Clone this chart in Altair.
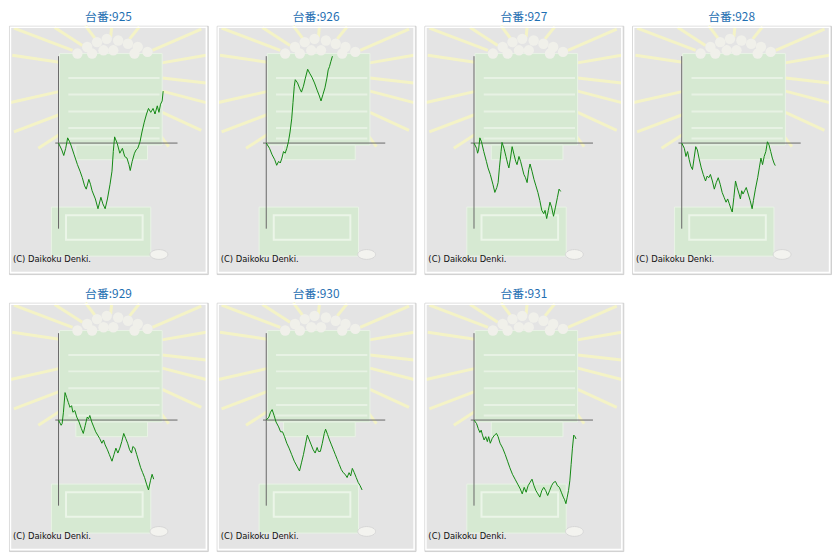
import altair as alt
import pandas as pd

# ---------------- data: game count (x) vs. coin difference (y) ----------------
MACHINES = ["925", "926", "927", "928", "929", "930", "931"]

GAMES = {
    "925": [0, 100, 160, 220, 280, 340, 380, 480, 580, 660, 730, 800, 850, 930, 980, 1030, 1130, 1210, 1300, 1360, 1430, 1500, 1580, 1640, 1680, 1720, 1800, 1880, 1960, 2030, 2100, 2160, 2200, 2260, 2330, 2380, 2430, 2500, 2560, 2630, 2700, 2760, 2830, 2900, 2960, 3030, 3080, 3130, 3180, 3210],
    "926": [0, 100, 180, 260, 320, 380, 430, 480, 530, 580, 630, 680, 730, 780, 820, 860, 890, 960, 1030, 1080, 1140, 1200, 1270, 1330, 1400, 1480, 1560, 1630, 1680, 1740, 1800, 1860, 1900, 1940, 1980, 2030],
    "927": [0, 80, 110, 140, 180, 230, 300, 380, 430, 500, 580, 640, 700, 740, 780, 830, 860, 920, 980, 1040, 1070, 1120, 1170, 1230, 1280, 1320, 1380, 1430, 1480, 1530, 1580, 1630, 1680, 1720, 1780, 1840, 1900, 1960, 2020, 2080, 2140, 2180, 2230, 2280, 2330, 2380, 2440, 2500, 2560, 2610, 2660],
    "928": [0, 80, 130, 180, 230, 280, 330, 380, 430, 480, 530, 600, 660, 730, 780, 830, 880, 940, 1000, 1060, 1120, 1180, 1240, 1300, 1360, 1410, 1460, 1510, 1550, 1600, 1650, 1700, 1760, 1800, 1840, 1880, 1930, 1980, 2040, 2100, 2160, 2200, 2260, 2330, 2380, 2430, 2480, 2530, 2580, 2630, 2680, 2730, 2780, 2830, 2870],
    "929": [0, 80, 110, 150, 200, 250, 300, 350, 400, 440, 500, 560, 630, 700, 760, 820, 880, 920, 960, 1020, 1080, 1140, 1200, 1260, 1330, 1380, 1430, 1500, 1560, 1600, 1640, 1700, 1760, 1820, 1880, 1940, 2000, 2060, 2120, 2180, 2240, 2280, 2340, 2400, 2460, 2520, 2580, 2640, 2700, 2760, 2820, 2870, 2920],
    "930": [0, 80, 130, 180, 240, 300, 380, 440, 500, 560, 630, 700, 780, 860, 940, 1020, 1080, 1140, 1200, 1260, 1320, 1380, 1440, 1500, 1560, 1600, 1660, 1720, 1780, 1820, 1880, 1940, 2000, 2060, 2120, 2180, 2240, 2300, 2360, 2420, 2480, 2540, 2590, 2640, 2700, 2760, 2820, 2880, 2940],
    "931": [0, 80, 130, 180, 220, 260, 310, 360, 410, 450, 500, 560, 630, 690, 740, 800, 880, 960, 1030, 1100, 1180, 1260, 1340, 1420, 1480, 1540, 1600, 1660, 1720, 1780, 1840, 1900, 1960, 2020, 2080, 2140, 2200, 2260, 2320, 2380, 2440, 2500, 2560, 2620, 2680, 2740, 2780, 2820, 2860, 2900, 2940, 2980, 3020, 3060, 3100, 3130],
}

COINS = {
    "925": [0, -210, -380, -160, 160, 40, -60, -360, -660, -860, -1060, -1310, -1410, -1110, -1260, -1460, -1710, -2010, -1660, -1860, -2010, -1710, -1260, -860, -260, 190, -10, -310, -160, -410, -460, -660, -840, -560, -310, -210, -160, 40, 340, 640, 890, 1060, 940, 1060, 890, 1140, 940, 1190, 1290, 1590],
    "926": [0, -160, -360, -510, -680, -560, -610, -460, -260, -310, -160, 40, 340, 740, 1240, 1740, 1940, 1840, 1660, 1560, 1740, 1990, 2260, 2140, 2020, 1840, 1620, 1440, 1290, 1490, 1690, 1990, 2240, 2340, 2490, 2660],
    "927": [0, -160, -310, -210, 160, 40, -260, -560, -760, -960, -1260, -1510, -1360, -1210, -760, -260, 20, -160, -410, -660, -760, -460, -110, -360, -560, -660, -410, -560, -760, -960, -1060, -1210, -810, -640, -860, -1110, -1310, -1510, -1760, -2060, -2160, -2060, -2310, -2060, -1810, -1960, -2240, -1960, -1660, -1410, -1480],
    "928": [0, -160, -410, -260, -510, -710, -810, -460, -110, -210, -460, -760, -960, -1160, -1010, -1060, -960, -1160, -1410, -1210, -1060, -1260, -1510, -1660, -1810, -1710, -1860, -2010, -2110, -1660, -1160, -1360, -1560, -1710, -1460, -1560, -1460, -1360, -1560, -1760, -2010, -1760, -1410, -1060, -760, -460, -660, -410, -260, 40, -60, -260, -460, -610, -690],
    "929": [0, -160, -110, 240, 840, 690, 540, 390, 440, 240, 290, 90, -60, -260, -410, -160, 90, 40, 140, -60, -210, -360, -460, -560, -710, -610, -760, -910, -1060, -1160, -1260, -1060, -860, -1010, -860, -660, -410, -560, -710, -910, -1010, -810, -860, -1060, -1260, -1460, -1610, -1760, -1960, -2140, -1860, -1660, -1810],
    "930": [0, 90, 240, 320, 140, -60, -210, -360, -360, -510, -710, -860, -1060, -1260, -1410, -1560, -1310, -1060, -760, -460, -610, -760, -910, -1010, -840, -960, -960, -710, -410, -280, -440, -610, -760, -910, -1060, -1210, -1360, -1510, -1610, -1660, -1760, -1610, -1710, -1480, -1610, -1760, -1910, -2010, -2140],
    "931": [0, -110, -260, -380, -310, -460, -610, -510, -660, -510, -710, -560, -460, -410, -510, -710, -860, -1060, -1260, -1460, -1660, -1810, -1960, -2110, -2260, -2060, -2210, -2010, -1910, -1810, -2010, -2160, -2260, -2360, -2160, -2060, -2160, -2310, -2160, -2010, -1910, -1880, -2010, -2060, -2210, -2360, -2440, -2560, -2360, -2160, -1860, -1360, -860, -460, -510, -580],
}

# panel extent and axis extent (same units as data)
X_DOMAIN = [-1520, 4580]
Y_DOMAIN = [-4010, 3590]
AXIS_X = [-100, 3650]
AXIS_Y = [-2620, 2660]

# ---------------- decorative background (approximation of the picture) ----------------
RAY_X1 = [-1370, -120, -1420, -1470, -1370, -620, 830, 1630, 2480, 4380, 4530, 4530, 4530, 4380, 3380]
RAY_Y1 = [3520, 3540, 2690, 1240, 340, -160, 3590, 3560, 3560, 3490, 2690, 1840, 1240, 390, -110]
RAY_X2 = [430, 730, 130, 80, 80, 80, 1130, 1600, 2180, 2880, 3080, 3180, 3180, 3180, 3080]
RAY_Y2 = [2840, 2990, 2460, 1590, 890, 290, 3190, 3240, 3190, 2840, 2440, 1990, 1590, 940, 290]

BALL_X = [580, 880, 1180, 1480, 1830, 2130, 2430, 2730, 1030, 1680, 2330, 1380]
BALL_Y = [2740, 2940, 3090, 3190, 3140, 3040, 2940, 2790, 2740, 2840, 2740, 2840]

BLOCK_X1 = [30, 530, -220]
BLOCK_X2 = [3180, 2730, 2830]
BLOCK_Y1 = [-60, -510, -3460]
BLOCK_Y2 = [2740, -60, -1960]

BAND_Y = [1990, 1490, 970, 460, 140]
BAND_X1 = [300, 300, 300, 300, 300]
BAND_X2 = [3100, 3100, 3100, 3100, 3100]

INNER_TRAY = {"x": [230], "x2": [2580], "y": [-2960], "y2": [-2210]}
COIN = {"x": [3080], "y": [-3410]}
COPYRIGHT = {"x": [-1400], "y": [-3540], "t": ["(C) Daikoku Denki."]}
FRAME = {"x": [X_DOMAIN[0] + 45], "x2": [X_DOMAIN[1] - 45], "y": [Y_DOMAIN[0] + 45], "y2": [Y_DOMAIN[1] - 45]}

W, H = 201, 251

XS = alt.Scale(domain=X_DOMAIN, nice=False, zero=False)
YS = alt.Scale(domain=Y_DOMAIN, nice=False, zero=False)


def X(f="x"):
    return alt.X(f + ":Q", scale=XS, axis=None)


def Y(f="y"):
    return alt.Y(f + ":Q", scale=YS, axis=None)


rays = alt.Chart(pd.DataFrame({"x": RAY_X1, "y": RAY_Y1, "x2": RAY_X2, "y2": RAY_Y2})).mark_rule(
    color="#f4f3c6", strokeWidth=3
).encode(x=X(), y=Y(), x2="x2:Q", y2="y2:Q")

blocks = alt.Chart(pd.DataFrame({"x": BLOCK_X1, "x2": BLOCK_X2, "y": BLOCK_Y1, "y2": BLOCK_Y2})).mark_rect(
    color="#d6e9d2", stroke="#e9f3e6", strokeWidth=1
).encode(x=X(), x2="x2:Q", y=Y(), y2="y2:Q")

bands = alt.Chart(pd.DataFrame({"x": BAND_X1, "x2": BAND_X2, "y": BAND_Y})).mark_rule(
    color="#e7f2e4", strokeWidth=2
).encode(x=X(), x2="x2:Q", y=Y())

balls = alt.Chart(pd.DataFrame({"x": BALL_X, "y": BALL_Y})).mark_circle(
    color="#f0f0ea", size=110, opacity=1
).encode(x=X(), y=Y())

inner_tray = alt.Chart(pd.DataFrame(INNER_TRAY)).mark_rect(
    fill="#d6e9d2", stroke="#ebf5e8", strokeWidth=2
).encode(x=X(), x2="x2:Q", y=Y(), y2="y2:Q")

coin = alt.Chart(pd.DataFrame(COIN)).mark_point(
    shape="M-1,0 A1,0.55 0 1,0 1,0 A1,0.55 0 1,0 -1,0 Z",
    filled=True, fill="#f3f3ef", stroke="#d6d6d6", strokeWidth=1, size=324, opacity=1
).encode(x=X(), y=Y())

frame = alt.Chart(pd.DataFrame(FRAME)).mark_rect(
    fill="transparent", stroke="#ffffff", strokeWidth=1.5
).encode(x=X(), x2="x2:Q", y=Y(), y2="y2:Q")

axis_v = alt.Chart(pd.DataFrame({"x": [0], "y": [AXIS_Y[0]], "y2": [AXIS_Y[1]]})).mark_rule(
    color="#666666", strokeWidth=1
).encode(x=X(), y=Y(), y2="y2:Q")

axis_h = alt.Chart(pd.DataFrame({"x": [AXIS_X[0]], "x2": [AXIS_X[1]], "y": [0]})).mark_rule(
    color="#666666", strokeWidth=1
).encode(x=X(), x2="x2:Q", y=Y())

text = alt.Chart(pd.DataFrame(COPYRIGHT)).mark_text(
    align="left", baseline="middle", fontSize=8.5, font="DejaVu Sans", color="#111111"
).encode(x=X(), y=Y(), text="t:N")


def panel(m):
    df = pd.DataFrame({"x": GAMES[m], "y": COINS[m]})
    line = alt.Chart(df).mark_line(color="#118811", strokeWidth=1).encode(x=X(), y=Y())
    return alt.layer(
        rays, blocks, bands, balls, inner_tray, coin, frame, axis_v, axis_h, line, text
    ).properties(
        width=W,
        height=H,
        title=alt.TitleParams(
            text="台番:" + m, fontSize=12, font="Noto Sans CJK JP", fontWeight="normal",
            color="#1f6fb2", offset=0, anchor="middle",
        ),
    )


panels = [panel(m) for m in MACHINES]
row1 = alt.hconcat(*panels[:4], spacing=7)
row2 = alt.hconcat(*panels[4:], spacing=7)

chart = alt.vconcat(row1, row2, spacing=13, padding=0).configure_view(
    fill="#e4e4e4", stroke="#cfcfcf", strokeWidth=1
)

chart.save("out.html", embed_options={"renderer": "svg", "actions": False})
